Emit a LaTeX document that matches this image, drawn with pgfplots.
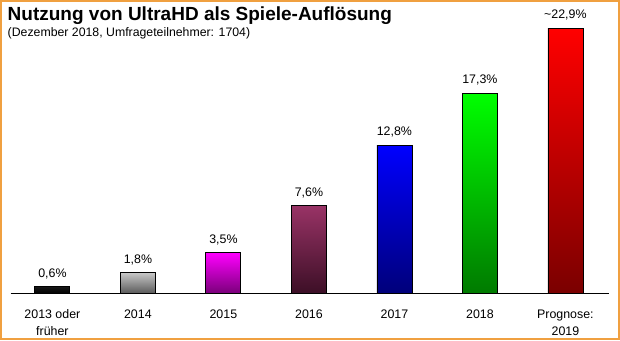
\documentclass[border=0pt]{standalone}
\usepackage{pgfplots}
\pgfplotsset{compat=1.18}
\usepackage{fontspec}
\setmainfont{Liberation Sans}
\definecolor{frameor}{HTML}{F0A040}
\definecolor{cAt}{HTML}{181818}\definecolor{cAb}{HTML}{000000}
\definecolor{cBt}{HTML}{C8C8C8}\definecolor{cBb}{HTML}{5A5A5A}
\definecolor{cCt}{HTML}{FF00FF}\definecolor{cCb}{HTML}{7A007A}
\definecolor{cDt}{HTML}{993366}\definecolor{cDb}{HTML}{3C0F26}
\definecolor{cEt}{HTML}{0000FF}\definecolor{cEb}{HTML}{00007A}
\definecolor{cFt}{HTML}{00FF00}\definecolor{cFb}{HTML}{007A00}
\definecolor{cGt}{HTML}{FF0000}\definecolor{cGb}{HTML}{7A0000}
\begin{document}
\begin{tikzpicture}[x=1pt,y=1pt]
\begin{axis}[
  at={(10.5pt,46.7pt)}, anchor=south west,
  scale only axis, width=598.5pt, height=265pt,
  xmin=-0.49, xmax=6.51, ymin=0, ymax=22.9,
  axis x line=bottom, axis y line=none,
  x axis line style={-, black, line width=1pt},
  xtick={0,1,2,3,4,5,6},
  xticklabels={{2013 oder\\früher},2014,2015,2016,2017,2018,{Prognose:\\2019}},
  major tick length=0pt,
  xticklabel style={align=center, anchor=north, inner sep=0pt, yshift=-16pt, font=\fontsize{12.4}{17}\selectfont},
  ytick=\empty,
  clip=false,
  every axis plot/.append style={ybar, bar width=35pt, bar shift=0pt, draw=black, line width=0.8pt},
  nodes near coords style={anchor=base, yshift=9.3pt, font=\fontsize{12.4}{14}\selectfont, text=black},
]
\addplot[top color=cAt, bottom color=cAb, nodes near coords={0,6\%}] coordinates {(0,0.6)};
\addplot[top color=cBt, bottom color=cBb, nodes near coords={1,8\%}] coordinates {(1,1.8)};
\addplot[top color=cCt, bottom color=cCb, nodes near coords={3,5\%}] coordinates {(2,3.5)};
\addplot[top color=cDt, bottom color=cDb, nodes near coords={7,6\%}] coordinates {(3,7.6)};
\addplot[top color=cEt, bottom color=cEb, nodes near coords={12,8\%}] coordinates {(4,12.8)};
\addplot[top color=cFt, bottom color=cFb, nodes near coords={17,3\%}] coordinates {(5,17.3)};
\addplot[top color=cGt, bottom color=cGb, nodes near coords={\textasciitilde22,9\%}] coordinates {(6,22.9)};
\end{axis}
\node[anchor=base west, inner sep=0pt, font=\fontsize{19}{21}\selectfont\bfseries] at (7.5,319.3) {Nutzung von UltraHD als Spiele-Auflösung};
\node[anchor=base west, inner sep=0pt, font=\fontsize{12.3}{14}\selectfont] at (7.5,303.3) {(Dezember 2018, Umfrageteilnehmer: 1704)};
\draw[frameor, line width=2pt] (1,1) rectangle (619,339);
\pgfresetboundingbox
\useasboundingbox (0,0) rectangle (620,340);
\end{tikzpicture}
\end{document}
